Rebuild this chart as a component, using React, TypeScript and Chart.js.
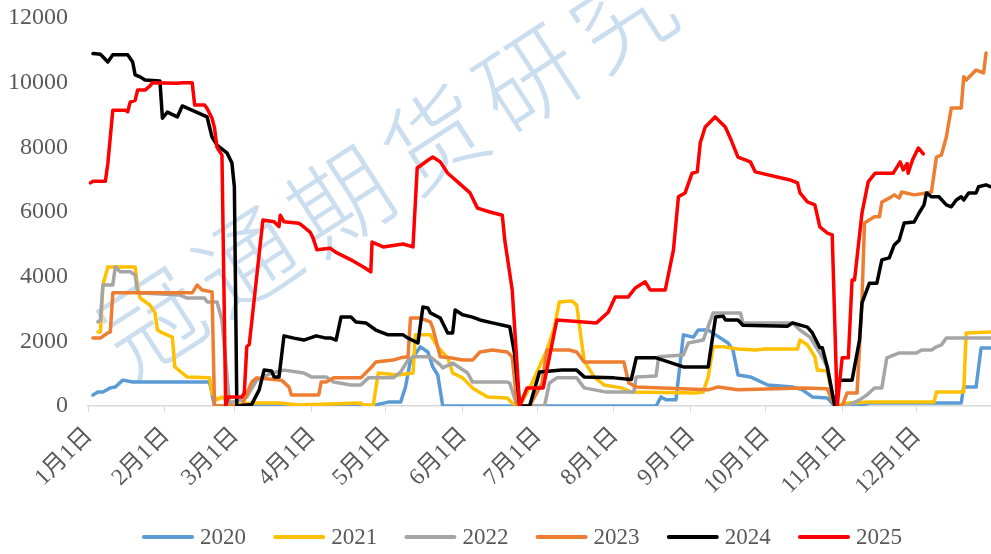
import { useEffect, useRef } from "react";
import { Chart, registerables } from "chart.js";

Chart.register(...registerables);

const seriesLabels = ["2020", "2021", "2022", "2023", "2024", "2025"];
const seriesColors = ["#5B9BD5", "#FFC000", "#A5A5A5", "#ED7D31", "#000000", "#FF0000"];

const monthStartDays = [0, 31, 59, 90, 120, 151, 181, 212, 243, 273, 304, 334];
const monthLabels = ["1月1日", "2月1日", "3月1日", "4月1日", "5月1日", "6月1日", "7月1日", "8月1日", "9月1日", "10月1日", "11月1日", "12月1日"];
const yMin = 0;
const yMax = 12000;
const yStep = 2000;
const watermarkText = "冠通期货研究";

// day of year (0 = Jan 1) and value
const days2020 = [2, 4, 6, 9, 11, 14, 18, 49, 51, 114, 121, 126, 128, 130, 134, 137, 139, 141, 143, 229, 231, 233, 237, 240, 244, 246, 250, 253, 258, 260, 262, 267, 274, 284, 288, 292, 298, 301, 310, 315, 352, 353, 358, 360, 364];
const vals2020 = [340, 430, 430, 560, 590, 800, 740, 740, 0, 0, 120, 120, 590, 1420, 1830, 1670, 1210, 960, 0, 0, 280, 190, 190, 2200, 2130, 2350, 2350, 2200, 1950, 1730, 960, 900, 650, 590, 500, 280, 250, 0, 0, 90, 90, 590, 590, 1790, 1790];

const days2021 = [4, 5, 6, 8, 19, 20, 21, 25, 27, 28, 30, 34, 35, 38, 40, 49, 50, 52, 54, 59, 66, 77, 85, 110, 111, 115, 117, 125, 131, 132, 138, 141, 145, 147, 151, 155, 161, 169, 171, 174, 179, 185, 188, 190, 195, 197, 200, 204, 208, 215, 219, 245, 248, 250, 252, 256, 262, 269, 273, 286, 287, 290, 293, 294, 298, 301, 306, 315, 341, 342, 353, 354, 364];
const vals2021 = [2290, 2290, 3740, 4300, 4300, 3680, 3340, 3120, 2880, 2350, 2260, 2130, 1210, 1020, 900, 870, 400, 190, 280, 30, 90, 90, 30, 90, 30, 30, 1020, 960, 1020, 2200, 2200, 1830, 1490, 1020, 870, 560, 280, 250, 90, 0, 710, 1730, 2440, 3220, 3250, 3120, 1400, 900, 650, 560, 430, 400, 430, 900, 1830, 1830, 1760, 1730, 1760, 1760, 2040, 1890, 1520, 1110, 1080, 0, 90, 120, 120, 430, 430, 2260, 2290];

const days2022 = [4, 5, 6, 10, 11, 13, 17, 19, 20, 37, 40, 47, 48, 52, 54, 57, 62, 64, 68, 74, 79, 87, 90, 96, 99, 106, 110, 113, 123, 126, 129, 131, 138, 142, 143, 147, 153, 155, 169, 170, 173, 184, 186, 189, 197, 200, 209, 220, 221, 229, 230, 240, 242, 248, 252, 263, 264, 284, 287, 291, 295, 298, 301, 306, 311, 314, 317, 320, 322, 325, 327, 334, 336, 340, 342, 344, 346, 364];
const vals2022 = [2600, 2660, 3740, 3740, 4300, 4150, 4150, 4050, 3500, 3430, 3340, 3340, 3220, 3220, 2660, 100, 190, 280, 800, 1020, 1110, 1020, 900, 900, 740, 650, 650, 870, 870, 1050, 1420, 1520, 1520, 1270, 1180, 1330, 1020, 740, 740, 710, 0, 0, 710, 870, 870, 560, 430, 430, 900, 930, 1520, 1580, 1950, 2040, 2880, 2880, 2570, 2570, 2350, 2130, 1640, 1210, 0, 0, 190, 340, 560, 560, 1490, 1580, 1640, 1640, 1730, 1730, 1830, 1890, 2100, 2100];

const days2023 = [2, 5, 8, 9, 10, 42, 44, 46, 50, 51, 62, 66, 68, 78, 81, 82, 93, 94, 96, 99, 110, 114, 116, 123, 126, 129, 130, 134, 138, 139, 142, 146, 151, 155, 158, 163, 169, 171, 173, 178, 183, 185, 194, 197, 200, 216, 218, 221, 250, 254, 262, 288, 298, 301, 304, 306, 310, 312, 313, 317, 319, 320, 323, 325, 327, 328, 333, 338, 340, 342, 344, 346, 348, 352, 353, 354, 358, 361, 362];
const vals2023 = [2100, 2100, 2260, 2290, 3500, 3500, 3740, 3590, 3530, 0, 0, 740, 870, 800, 590, 340, 340, 740, 740, 870, 870, 1180, 1360, 1420, 1490, 1520, 2720, 2720, 2600, 2410, 1520, 1490, 1420, 1420, 1670, 1730, 1670, 1520, 0, 0, 710, 1730, 1730, 1670, 1360, 1360, 710, 590, 500, 590, 500, 560, 530, 0, 0, 400, 400, 3280, 5660, 5850, 5850, 6310, 6430, 6530, 6430, 6620, 6530, 6590, 6620, 7700, 7760, 8320, 9220, 9220, 10180, 10080, 10390, 10300, 10920];

const days2024 = [2, 5, 8, 10, 16, 18, 19, 21, 23, 29, 30, 32, 36, 38, 48, 49, 50, 52, 56, 58, 59, 60, 66, 69, 71, 74, 75, 77, 79, 83, 87, 92, 96, 98, 100, 102, 106, 108, 112, 116, 121, 127, 129, 133, 135, 137, 138, 142, 145, 147, 148, 151, 155, 158, 163, 170, 172, 174, 178, 182, 191, 197, 200, 212, 219, 221, 229, 240, 250, 253, 256, 257, 262, 264, 282, 284, 290, 292, 295, 296, 298, 301, 303, 308, 311, 312, 315, 318, 320, 323, 325, 327, 329, 333, 335, 337, 338, 340, 343, 346, 348, 350, 352, 353, 355, 358, 359, 362, 364];
const vals2024 = [10900, 10880, 10640, 10860, 10860, 10640, 10240, 10180, 10080, 10050, 8900, 9090, 8940, 9280, 8940, 8630, 8320, 8070, 7830, 7520, 6780, 0, 50, 500, 1110, 1080, 900, 900, 2170, 2100, 2040, 2170, 2100, 2100, 2040, 2750, 2750, 2600, 2570, 2350, 2200, 2200, 2100, 1950, 3060, 3030, 2880, 2720, 2260, 2260, 2970, 2820, 2750, 2660, 2570, 2450, 1600, 0, 0, 1050, 1110, 1110, 900, 870, 820, 1490, 1490, 1210, 1210, 2750, 2780, 2660, 2660, 2500, 2470, 2570, 2440, 2260, 1800, 1800, 1210, 0, 800, 800, 2040, 3190, 3800, 3800, 4520, 4580, 4980, 5130, 5660, 5690, 5970, 6220, 6590, 6470, 6470, 6220, 6160, 6370, 6470, 6370, 6590, 6590, 6780, 6840, 6780];

const days2025 = [1, 2, 7, 8, 10, 15, 16, 17, 19, 20, 23, 25, 26, 36, 38, 42, 43, 47, 48, 50, 51, 52, 54, 55.5, 56.5, 62, 63, 64, 65, 70.5, 75, 77, 77.5, 79, 85, 86, 89.5, 90.7, 92.3, 97.6, 100, 106, 111, 114, 114.5, 119, 127, 131, 132.7, 137, 139, 142, 145, 149, 154, 157, 162, 167, 168, 171, 174, 177, 183.5, 189, 205, 209.7, 212.5, 217.7, 220.6, 224.6, 226.6, 232.7, 236, 238, 240.7, 243.5, 245.6, 246.8, 248.8, 252.8, 256.9, 258.9, 262, 267, 269, 283, 286, 287, 290, 293, 295, 298, 300, 302, 304, 306.5, 308, 309, 312, 314.5, 317.3, 324.6, 327.4, 328.6, 330.2, 330.6, 332.3, 334.7, 336.7];
const vals2025 = [6900, 6950, 6950, 7500, 9150, 9150, 9100, 9400, 9450, 9770, 9770, 9900, 10000, 9980, 10000, 10000, 9310, 9310, 9200, 8900, 8600, 8000, 7760, 0, 280, 280, 400, 1830, 1900, 5750, 5700, 5550, 5900, 5700, 5650, 5600, 5380, 5200, 4830, 4880, 4750, 4520, 4300, 4150, 5070, 4920, 5010, 4920, 7360, 7600, 7700, 7550, 7200, 6930, 6590, 6120, 6000, 5900, 5130, 3590, 0, 560, 560, 2660, 2570, 2900, 3370, 3370, 3650, 3840, 3590, 3590, 4830, 6470, 6590, 7200, 7240, 8140, 8630, 8940, 8630, 8290, 7700, 7550, 7240, 6990, 6900, 6590, 6310, 6220, 5540, 5350, 5290, 0, 1490, 1490, 3900, 3900, 5970, 6930, 7200, 7200, 7550, 7300, 7500, 7200, 7600, 7980, 7800];

const seriesDays = [days2020, days2021, days2022, days2023, days2024, days2025];
const seriesVals = [vals2020, vals2021, vals2022, vals2023, vals2024, vals2025];

const FONT_FAMILY = '"Liberation Serif", "Noto Sans CJK SC", serif';
const TEXT_COLOR = "#595959";

const watermarkPlugin = {
  id: "watermark",
  beforeDatasetsDraw(chart: any) {
    const ctx = chart.ctx;
    ctx.save();
    ctx.fillStyle = "rgba(160,195,228,0.55)";
    ctx.font = '300 100px "Noto Sans CJK SC"';
    ctx.textAlign = "center";
    ctx.textBaseline = "middle";
    const angle = Math.atan2(-61, 94);
    Array.from(watermarkText).forEach((ch, i) => {
      ctx.save();
      ctx.translate(152 + 94 * i, 322 - 61 * i);
      ctx.rotate(angle);
      ctx.fillText(ch, 0, 0);
      ctx.restore();
    });
    ctx.restore();
  },
};

// rotated month labels under the x axis, placed at the scale's tick pixels
const xLabelPlugin = {
  id: "xMonthLabels",
  afterDraw(chart: any) {
    const scale = chart.scales.x;
    const ctx = chart.ctx;
    ctx.save();
    ctx.font = `23.5px ${FONT_FAMILY}`;
    ctx.fillStyle = TEXT_COLOR;
    ctx.textAlign = "right";
    ctx.textBaseline = "middle";
    monthStartDays.forEach((d, i) => {
      const px = scale.getPixelForValue(d);
      ctx.save();
      ctx.translate(px + 1, scale.top + 26);
      ctx.rotate(-Math.PI / 4);
      ctx.fillText(monthLabels[i], 0, 0);
      ctx.restore();
    });
    ctx.restore();
  },
};

const legendPlugin = {
  id: "bottomLegend",
  afterDraw(chart: any) {
    const ctx = chart.ctx;
    ctx.save();
    ctx.font = `23px ${FONT_FAMILY}`;
    ctx.textBaseline = "middle";
    ctx.textAlign = "left";
    let x = 142;
    const y = 537;
    chart.data.datasets.forEach((ds: any) => {
      ctx.strokeStyle = ds.borderColor;
      ctx.lineWidth = 4;
      ctx.lineCap = "round";
      ctx.beginPath();
      ctx.moveTo(x + 2, y);
      ctx.lineTo(x + 50, y);
      ctx.stroke();
      ctx.fillStyle = TEXT_COLOR;
      ctx.fillText(ds.label, x + 58, y + 1);
      x += 131.2;
    });
    ctx.restore();
  },
};

export default function App() {
  const canvasRef = useRef<HTMLCanvasElement | null>(null);

  useEffect(() => {
    document.body.style.margin = "0";
    const canvas = canvasRef.current;
    if (!canvas) return;

    const datasets = seriesLabels.map((label, i) => ({
      label,
      data: seriesDays[i].map((d, j) => ({ x: d, y: seriesVals[i][j] })),
      borderColor: seriesColors[i],
      backgroundColor: seriesColors[i],
      borderWidth: 3.5,
      pointRadius: 0,
      pointHoverRadius: 0,
      tension: 0,
      fill: false,
      borderJoinStyle: "round" as const,
      borderCapStyle: "round" as const,
      order: seriesLabels.length - i,
    }));

    const chart = new Chart(canvas, {
      type: "line",
      data: { datasets },
      plugins: [watermarkPlugin, xLabelPlugin, legendPlugin],
      options: {
        responsive: false,
        animation: false,
        layout: { padding: { top: 18, left: 0, right: 0, bottom: 0 } },
        plugins: {
          legend: { display: false },
          tooltip: { enabled: false },
          title: { display: false },
        },
        scales: {
          x: {
            type: "linear",
            min: 0,
            max: 364,
            afterBuildTicks: (scale: any) => {
              scale.ticks = monthStartDays.map((v) => ({ value: v }));
            },
            afterFit: (scale: any) => {
              scale.height = 148;
              scale.paddingLeft = 0;
              scale.paddingRight = 0;
            },
            grid: {
              display: true,
              drawOnChartArea: false,
              drawTicks: true,
              tickLength: 6,
              color: "#D9D9D9",
              lineWidth: 1,
            },
            border: { display: true, color: "#D9D9D9", width: 1.5 },
            ticks: {
              display: false,
              autoSkip: false,
            },
          },
          y: {
            min: yMin,
            max: yMax,
            afterFit: (scale: any) => {
              scale.width = 88;
              scale.paddingTop = 0;
              scale.paddingBottom = 0;
            },
            grid: { display: false, drawTicks: false },
            border: { display: false },
            ticks: {
              stepSize: yStep,
              padding: 20,
              color: TEXT_COLOR,
              font: { family: FONT_FAMILY, size: 24 },
              callback: (value: any) => String(value),
            },
          },
        },
      },
    });

    return () => {
      chart.destroy();
    };
  }, []);

  return (
    <div style={{ width: 991, height: 554, background: "#fff" }}>
      <canvas ref={canvasRef} width={991} height={554} style={{ display: "block" }} />
    </div>
  );
}
